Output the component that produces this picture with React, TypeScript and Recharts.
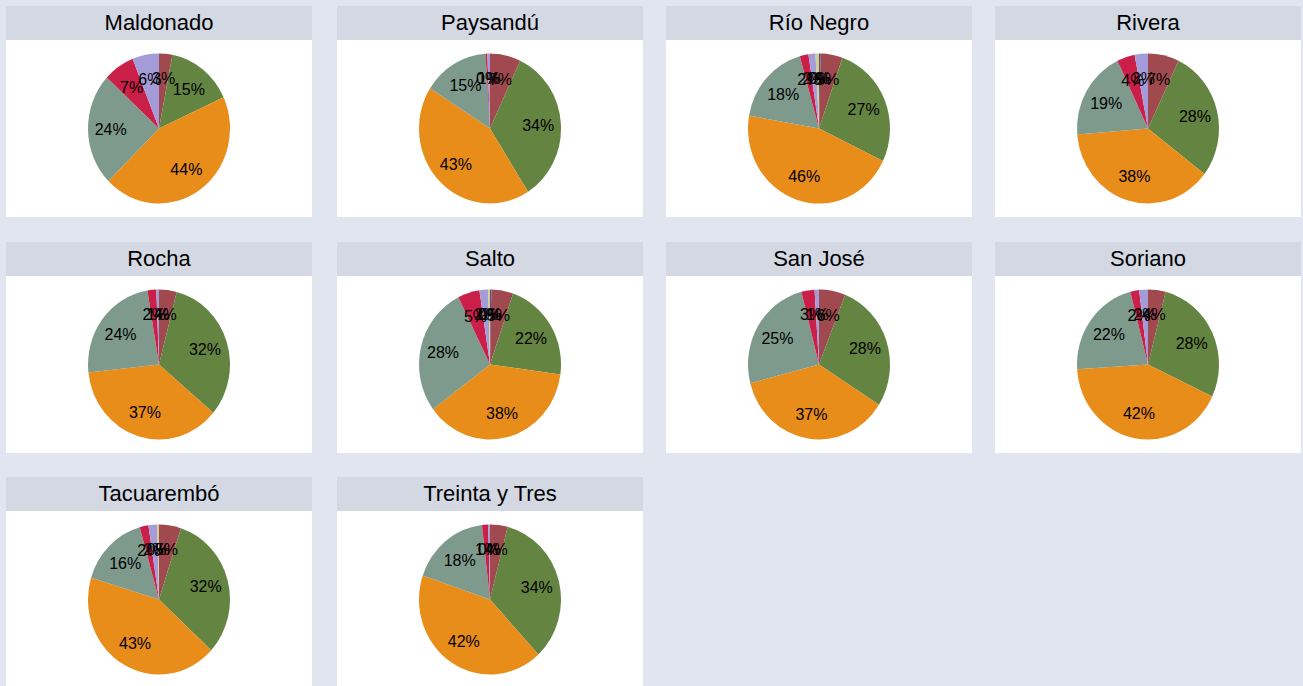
import { Cell, Pie, PieChart } from "recharts"

// slice order clockwise from 12 o'clock
const categories = ["Cat. 1", "Cat. 2", "Cat. 3", "Cat. 4", "Cat. 5", "Cat. 6", "Cat. 7", "Cat. 8"]
const colors = ["#42598f", "#a0494f", "#648441", "#e88c1a", "#7e9a8d", "#c91f49", "#a49cd8", "#d6cb8c"]

const departments = [
    "Maldonado", "Paysandú", "Río Negro", "Rivera",
    "Rocha", "Salto", "San José", "Soriano",
    "Tacuarembó", "Treinta y Tres",
]

const maldonado = [0, 3, 15, 44, 24, 7, 6, 0]
const paysandu = [0, 7, 34, 43, 15, 0.4, 0.6, 0]
const rioNegro = [0.4, 5, 27, 46, 18, 2, 1.6, 0.8]
const rivera = [0, 7, 28, 38, 19, 4, 3, 0]
const rocha = [0, 4, 32, 37, 24, 2, 0.6, 0]
const salto = [0.3, 5, 22, 38, 28, 5, 2, 0.4]
const sanJose = [0, 6, 28, 37, 25, 3, 1, 0]
const soriano = [0, 4, 28, 42, 22, 2, 2, 0]
const tacuarembo = [0, 5, 32, 43, 16, 2, 2, 0.4]
const treintaYTres = [0, 4, 34, 42, 18, 1.4, 0.4, 0]

const values = [maldonado, paysandu, rioNegro, rivera, rocha, salto, sanJose, soriano, tacuarembo, treintaYTres]

const colLeft = [6, 337, 666, 995]
const rowTop = [6, 242, 477]
const PANEL_W = 306
const HEADER_H = 34
const CHART_H = 177
const RY = 75
const RX = 71 // the original pies are a little narrower than tall
const RADIAN = Math.PI / 180
const FONT = '"Liberation Sans", Arial, sans-serif'

function pt(cx: number, cy: number, rx: number, ry: number, angle: number) {
    return [cx + rx * Math.cos(-angle * RADIAN), cy + ry * Math.sin(-angle * RADIAN)]
}

// elliptical sector, angles from the pie layout
function EllipseSector(props: any) {
    const { cx, cy, startAngle, endAngle, fill } = props
    if (Math.abs(startAngle - endAngle) < 1e-6) return null
    const [x0, y0] = pt(cx, cy, RX, RY, startAngle)
    const [x1, y1] = pt(cx, cy, RX, RY, endAngle)
    const large = Math.abs(startAngle - endAngle) > 180 ? 1 : 0
    const sweep = startAngle > endAngle ? 1 : 0
    const d = `M${cx},${cy} L${x0},${y0} A${RX},${RY} 0 ${large} ${sweep} ${x1},${y1} Z`
    return <path d={d} fill={fill} stroke="none" />
}

function renderLabel(props: any) {
    const { cx, cy, midAngle, percent, value } = props
    if (!value) return null
    const [x, y] = pt(cx, cy, RX * 0.68, RY * 0.67, midAngle)
    return (
        <text x={x} y={y} textAnchor="middle" dominantBaseline="central"
            fontSize={16} fontFamily={FONT} fill="#000">
            {Math.round(percent * 100)}%
        </text>
    )
}

function Panel(props: { title: string, vals: number[], left: number, top: number }) {
    const data = categories.map((name, i) => ({ name, value: props.vals[i] }))
    return (
        <div style={{ position: 'absolute', left: props.left, top: props.top, width: PANEL_W }}>
            <div style={{
                height: HEADER_H, background: '#d3d8e3', textAlign: 'center',
                lineHeight: HEADER_H + 'px', fontSize: 22, fontFamily: FONT, color: '#000',
            }}>
                {props.title}
            </div>
            <div style={{ background: '#fff', height: CHART_H }}>
                <PieChart width={PANEL_W} height={CHART_H} margin={{ top: 0, right: 0, bottom: 0, left: 0 }}>
                    <Pie
                        data={data}
                        dataKey="value"
                        nameKey="name"
                        cx="50%"
                        cy="50%"
                        outerRadius={RY}
                        startAngle={90}
                        endAngle={-270}
                        stroke="none"
                        shape={EllipseSector}
                        label={renderLabel}
                        labelLine={false}
                        isAnimationActive={false}
                    >
                        {data.map((d, i) => <Cell key={d.name} fill={colors[i]} />)}
                    </Pie>
                </PieChart>
            </div>
        </div>
    )
}

export default function App() {
    return (
        <div style={{
            position: 'absolute', left: 0, top: 0, width: 1303, height: 686,
            background: '#e1e5f0', overflow: 'hidden',
        }}>
            {departments.map((name, i) => (
                <Panel key={name} title={name} vals={values[i]}
                    left={colLeft[i % 4]} top={rowTop[Math.floor(i / 4)]} />
            ))}
        </div>
    )
}
